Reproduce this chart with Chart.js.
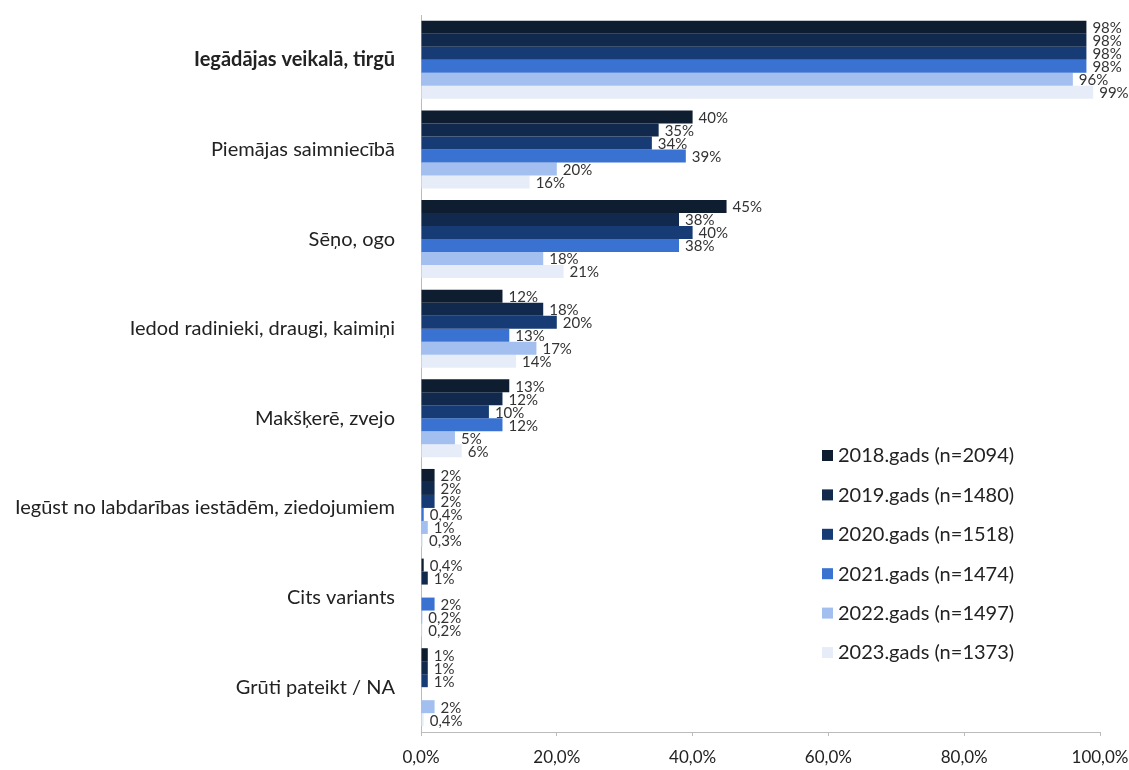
<!DOCTYPE html>
<html>
<head>
<meta charset="utf-8">
<script src="https://cdn.jsdelivr.net/npm/chart.js@4/dist/chart.umd.min.js"></script>
<style>
  html, body { margin: 0; padding: 0; background: #fff; }
  #wrap { width: 1129px; height: 770px; }
</style>
</head>
<body>
<div id="wrap"><canvas id="chart" width="1129" height="770"></canvas></div>
<script>
// Categories (y axis) and one array of shares per survey year
var categories = [
  "Iegādājas veikalā, tirgū",
  "Piemājas saimniecībā",
  "Sēņo, ogo",
  "Iedod radinieki, draugi, kaimiņi",
  "Makšķerē, zvejo",
  "Iegūst no labdarības iestādēm, ziedojumiem",
  "Cits variants",
  "Grūti pateikt / NA"
];
var years2018 = [98, 40, 45, 12, 13, 2, 0.4, 1];
var years2019 = [98, 35, 38, 18, 12, 2, 1, 1];
var years2020 = [98, 34, 40, 20, 10, 2, null, 1];
var years2021 = [98, 39, 38, 13, 12, 0.4, 2, null];
var years2022 = [96, 20, 18, 17, 5, 1, 0.2, 2];
var years2023 = [99, 16, 21, 14, 6, 0.3, 0.2, 0.4];
var seriesLabels = [
  "2018.gads (n=2094)",
  "2019.gads (n=1480)",
  "2020.gads (n=1518)",
  "2021.gads (n=1474)",
  "2022.gads (n=1497)",
  "2023.gads (n=1373)"
];
var xTicks = [0, 20, 40, 60, 80, 100];

var colors = ['#0f1d30', '#11294c', '#173b74', '#3a72d2', '#a3bff0', '#e6ecf8'];
var FONT = 'Lato, "Noto Sans", sans-serif';

function fmt(v, dec) {
  return v.toFixed(dec).replace('.', ',') + '%';
}

// value labels at the end of each bar
var barLabels = {
  id: 'barLabels',
  afterDatasetsDraw: function (chart) {
    var ctx = chart.ctx;
    ctx.save();
    ctx.font = '15px ' + FONT;
    ctx.fillStyle = '#333';
    ctx.textAlign = 'left';
    ctx.textBaseline = 'middle';
    chart.data.datasets.forEach(function (ds, i) {
      var meta = chart.getDatasetMeta(i);
      meta.data.forEach(function (bar, j) {
        var v = ds.data[j];
        if (v === null || v === undefined) return;
        var txt = Number.isInteger(v) ? fmt(v, 0) : fmt(v, 1);
        ctx.fillText(txt, bar.x + 6, bar.y + 1);
      });
    });
    ctx.restore();
  }
};

// legend drawn inside the plot area, bottom right
var innerLegend = {
  id: 'innerLegend',
  afterDraw: function (chart) {
    var ctx = chart.ctx;
    ctx.save();
    ctx.font = '20px ' + FONT;
    ctx.textBaseline = 'middle';
    ctx.textAlign = 'left';
    chart.data.datasets.forEach(function (ds, i) {
      var y = 455 + i * 39.4;
      ctx.fillStyle = ds.backgroundColor;
      ctx.fillRect(822, y - 5, 11, 11);
      ctx.fillStyle = '#222';
      ctx.fillText(ds.label, 838, y + 1);
    });
    ctx.restore();
  }
};

var allSeries = [years2018, years2019, years2020, years2021, years2022, years2023];

new Chart(document.getElementById('chart'), {
  type: 'bar',
  data: {
    labels: categories,
    datasets: allSeries.map(function (d, i) {
      return {
        label: seriesLabels[i],
        data: d,
        backgroundColor: colors[i],
        borderWidth: 0,
        categoryPercentage: 0.87,
        barPercentage: 1.0
      };
    })
  },
  options: {
    indexAxis: 'y',
    responsive: false,
    animation: false,
    layout: { padding: { top: 15, right: 29, bottom: 3, left: 0 } },
    plugins: {
      legend: { display: false },
      tooltip: { enabled: false }
    },
    scales: {
      x: {
        min: 0,
        max: 100,
        afterBuildTicks: function (scale) {
          scale.ticks = xTicks.map(function (v) { return { value: v }; });
        },
        afterFit: function (scale) {
          // don't let the end labels push the plot area in
          scale.paddingLeft = 0;
          scale.paddingRight = 0;
          scale.height = 35;
        },
        grid: {
          display: true,
          drawOnChartArea: false,
          drawTicks: true,
          tickLength: 4,
          color: '#bbb'
        },
        border: { display: true, color: '#bbb' },
        ticks: {
          padding: 11,
          color: '#222',
          font: { family: FONT, size: 17 },
          callback: function (v) { return fmt(v, 1); }
        }
      },
      y: {
        afterFit: function (scale) {
          scale.width = 421;
          scale.paddingTop = 0;
          scale.paddingBottom = 0;
        },
        grid: { display: false },
        border: { display: true, color: '#bbb' },
        ticks: {
          padding: 18,
          color: '#222',
          font: function (c) {
            return { family: FONT, size: 20, weight: c.index === 0 ? 'bold' : 'normal' };
          }
        }
      }
    }
  },
  plugins: [barLabels, innerLegend]
});
</script>
</body>
</html>
